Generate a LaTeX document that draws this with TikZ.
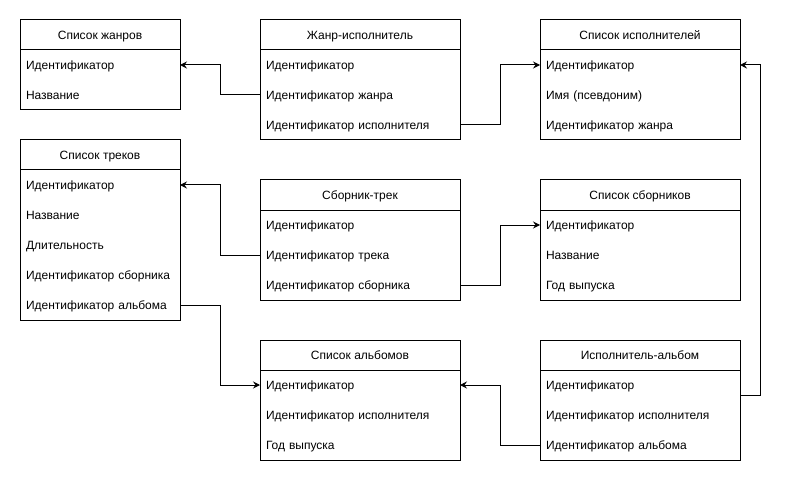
\documentclass[tikz,border=0pt]{standalone}
\usepackage{fontspec}
\setmainfont{Liberation Sans}
\usepackage{tikz}
\usetikzlibrary{positioning, arrows.meta}
\tikzstyle{thead} = [rectangle, draw, line width=1pt, outer sep=0pt, inner sep=0pt,
minimum width=200pt, minimum height=30pt, text centered, text height=10.5pt, text depth=1.5pt]
\tikzstyle{sthead} = [thead, minimum width=160pt]
\tikzstyle{trow} = [rectangle, outer sep=0pt, inner xsep=6pt, inner ysep=0pt,
text width=188pt, align=left, minimum height=30pt, text height=10.5pt, text depth=1.5pt]
\tikzstyle{strow} = [trow, text width=148pt]
\tikzstyle{tbox} = [line width=1pt]
\tikzstyle{arrow} = [line width=1pt, -{Stealth[length=7pt, width=7pt, inset=2.5pt]}]

\begin{document}
\begin{tikzpicture}[x=1pt, y=-1pt]
    \tikzstyle{every node}=[font=\fontsize{12}{14}\selectfont]
    \useasboundingbox (0,0) rectangle (789,481);

    % genres
    \node (genres) [sthead] at (100,35) {Список жанров};
    \node (genres1) [strow, below=0pt of genres] {Идентификатор};
    \node (genres2) [strow, below=0pt of genres1] {Название};
    \draw [tbox] (genres.north west) rectangle (genres2.south east);

    % genre-artist
    \node (genart) [thead] at (360,35) {Жанр-исполнитель};
    \node (genart1) [trow, below=0pt of genart] {Идентификатор};
    \node (genart2) [trow, below=0pt of genart1] {Идентификатор жанра};
    \node (genart3) [trow, below=0pt of genart2] {Идентификатор исполнителя};
    \draw [tbox] (genart.north west) rectangle (genart3.south east);

    % artists
    \node (artists) [thead] at (640,35) {Список исполнителей};
    \node (artists1) [trow, below=0pt of artists] {Идентификатор};
    \node (artists2) [trow, below=0pt of artists1] {Имя (псевдоним)};
    \node (artists3) [trow, below=0pt of artists2] {Идентификатор жанра};
    \draw [tbox] (artists.north west) rectangle (artists3.south east);

    % tracks
    \node (tracks) [sthead] at (100,155) {Список треков};
    \node (tracks1) [strow, below=0pt of tracks] {Идентификатор};
    \node (tracks2) [strow, below=0pt of tracks1] {Название};
    \node (tracks3) [strow, below=0pt of tracks2] {Длительность};
    \node (tracks4) [strow, below=0pt of tracks3] {Идентификатор сборника};
    \node (tracks5) [strow, below=0pt of tracks4] {Идентификатор альбома};
    \draw [tbox] (tracks.north west) rectangle (tracks5.south east);

    % collection-track
    \node (colltr) [thead] at (360,195) {Сборник-трек};
    \node (colltr1) [trow, below=0pt of colltr] {Идентификатор};
    \node (colltr2) [trow, below=0pt of colltr1] {Идентификатор трека};
    \node (colltr3) [trow, below=0pt of colltr2] {Идентификатор сборника};
    \draw [tbox] (colltr.north west) rectangle (colltr3.south east);

    % collections
    \node (colls) [thead] at (640,195) {Список сборников};
    \node (colls1) [trow, below=0pt of colls] {Идентификатор};
    \node (colls2) [trow, below=0pt of colls1] {Название};
    \node (colls3) [trow, below=0pt of colls2] {Год выпуска};
    \draw [tbox] (colls.north west) rectangle (colls3.south east);

    % albums
    \node (albums) [thead] at (360,355) {Список альбомов};
    \node (albums1) [trow, below=0pt of albums] {Идентификатор};
    \node (albums2) [trow, below=0pt of albums1] {Идентификатор исполнителя};
    \node (albums3) [trow, below=0pt of albums2] {Год выпуска};
    \draw [tbox] (albums.north west) rectangle (albums3.south east);

    % artist-album
    \node (artalb) [thead] at (640,355) {Исполнитель-альбом};
    \node (artalb1) [trow, below=0pt of artalb] {Идентификатор};
    \node (artalb2) [trow, below=0pt of artalb1] {Идентификатор исполнителя};
    \node (artalb3) [trow, below=0pt of artalb2] {Идентификатор альбома};
    \draw [tbox] (artalb.north west) rectangle (artalb3.south east);

    \draw [arrow] (genart2.west) -- ++(-40,0) |- (genres1.east);
    \draw [arrow] (genart3.east) -- ++(40,0) |- (artists1.west);
    \draw [arrow] ([yshift=-10pt]artalb1.east) -- ++(20,0) |- (artists1.east);
    \draw [arrow] (colltr2.west) -- ++(-40,0) |- (tracks1.east);
    \draw [arrow] (colltr3.east) -- ++(40,0) |- (colls1.west);
    \draw [arrow] (tracks5.east) -- ++(40,0) |- (albums1.west);
    \draw [arrow] (artalb3.west) -- ++(-40,0) |- (albums1.east);
\end{tikzpicture}
\end{document}
